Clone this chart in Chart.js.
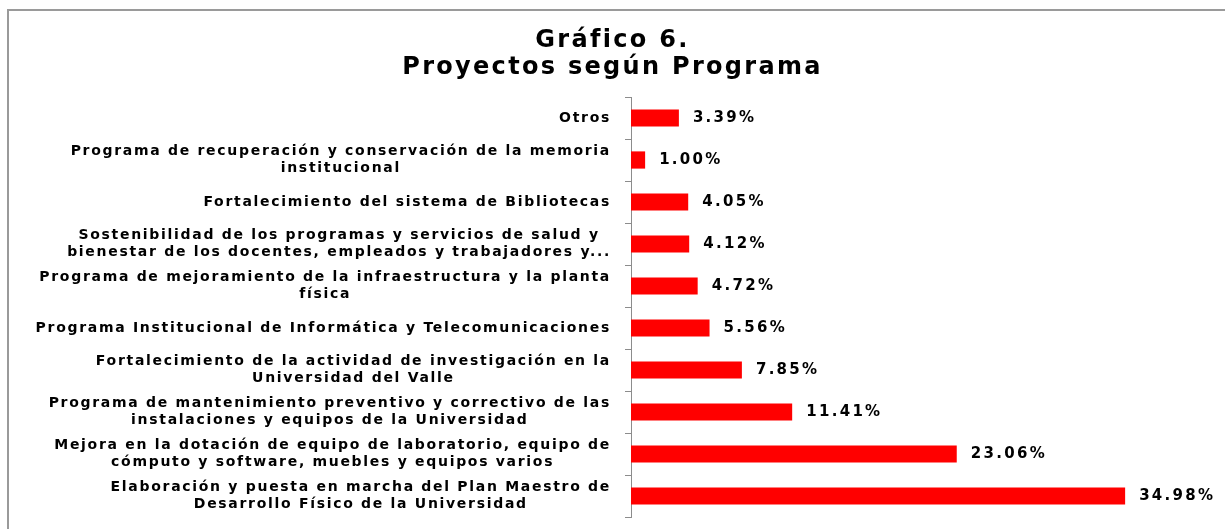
<!DOCTYPE html>
<html>
<head>
<meta charset="utf-8">
<script src="https://cdn.jsdelivr.net/npm/chart.js@4.4.1/dist/chart.umd.min.js"></script>
<style>
  html, body { margin: 0; padding: 0; background: #fff; overflow: hidden; }
  #frame { position: absolute; left: 7px; top: 9px; width: 1400px; height: 700px; border: 2px solid #9a9a9a; box-sizing: border-box; }
  #c { position: absolute; left: 0; top: 0; }
</style>
</head>
<body>
<div id="frame"></div>
<canvas id="c" width="1225" height="529"></canvas>
<script>
const titleLines = ["Gráfico 6.", "Proyectos según Programa"];

const categories = [
  ["Otros"],
  ["Programa de recuperación y conservación de la memoria", "institucional"],
  ["Fortalecimiento del sistema de Bibliotecas"],
  ["Sostenibilidad de los programas y servicios de salud y", "bienestar de los docentes, empleados y trabajadores y..."],
  ["Programa de mejoramiento de la infraestructura y la planta", "física"],
  ["Programa Institucional de Informática y Telecomunicaciones"],
  ["Fortalecimiento de la actividad de investigación en la", "Universidad del Valle"],
  ["Programa de mantenimiento preventivo y correctivo de las", "instalaciones y equipos de la Universidad"],
  ["Mejora en la dotación de equipo de laboratorio, equipo de", "cómputo y software, muebles y equipos varios"],
  ["Elaboración y puesta en marcha del Plan Maestro de", "Desarrollo Físico de la Universidad"]
];

const percentages = [3.39, 1.00, 4.05, 4.12, 4.72, 5.56, 7.85, 11.41, 23.06, 34.98];

const FONT = "'DejaVu Sans', sans-serif";

function setSpacing(ctx, px) {
  if ('letterSpacing' in ctx) ctx.letterSpacing = px + 'px';
}

const labelPlugin = {
  id: 'customLabels',
  beforeDraw(chart) {
    setSpacing(chart.ctx, 2.3);
  },
  afterDraw(chart) {
    const ctx = chart.ctx;
    const yScale = chart.scales.y;
    // category labels: block right-aligned, lines centered within block
    ctx.save();
    setSpacing(ctx, 1.7);
    ctx.font = "bold 14px " + FONT;
    ctx.fillStyle = '#000';
    ctx.textBaseline = 'middle';
    ctx.textAlign = 'center';
    const lineH = 17;
    const rightEdge = yScale.right - 20;
    chart.data.labels.forEach((lines, i) => {
      const yc = yScale.getPixelForTick(i);
      let w = 0;
      lines.forEach(l => { w = Math.max(w, ctx.measureText(l).width); });
      const cx = rightEdge - w / 2;
      const y0 = yc - (lines.length - 1) * lineH / 2;
      lines.forEach((l, k) => ctx.fillText(l, cx, y0 + k * lineH));
    });
    ctx.restore();

    // value labels at bar ends
    ctx.save();
    setSpacing(ctx, 2.3);
    ctx.font = "bold 15px " + FONT;
    ctx.fillStyle = '#000';
    ctx.textBaseline = 'middle';
    ctx.textAlign = 'left';
    const meta = chart.getDatasetMeta(0);
    meta.data.forEach((bar, i) => {
      const v = chart.data.datasets[0].data[i];
      ctx.fillText(v.toFixed(2) + '%', bar.x + 14, bar.y);
    });
    ctx.restore();
  }
};

new Chart(document.getElementById('c'), {
  type: 'bar',
  data: {
    labels: categories,
    datasets: [{
      data: percentages,
      backgroundColor: '#FF0000',
      borderWidth: 0,
      barPercentage: 0.41,
      categoryPercentage: 1.0
    }]
  },
  options: {
    indexAxis: 'y',
    responsive: false,
    animation: false,
    layout: { padding: { top: 0, right: 0, bottom: 12, left: 0 } },
    plugins: {
      legend: { display: false },
      tooltip: { enabled: false },
      title: {
        display: true,
        text: titleLines,
        color: '#000',
        font: { family: FONT, size: 24, weight: 'bold', lineHeight: 1.125 },
        padding: { top: 27, bottom: 16 }
      }
    },
    scales: {
      x: { display: false, min: 0, max: 42.05 },
      y: {
        grid: { display: true, drawOnChartArea: false, drawTicks: true, tickLength: 6, color: '#8c8c8c', offset: true },
        border: { display: true, color: '#8c8c8c', width: 1 },
        ticks: { display: false },
        afterFit(scale) { scale.width = 631; }
      }
    }
  },
  plugins: [labelPlugin]
});
</script>
</body>
</html>
